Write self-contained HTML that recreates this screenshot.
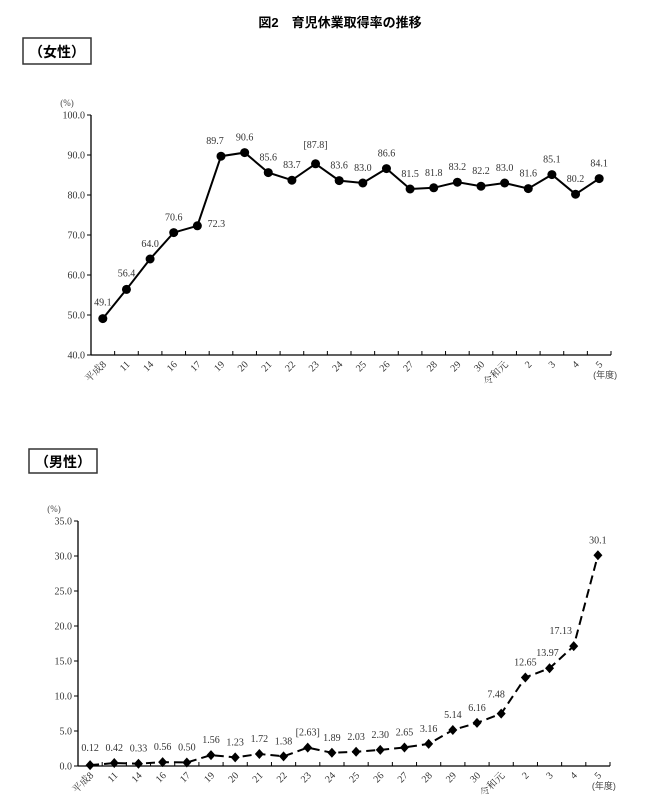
<!DOCTYPE html>
<html><head><meta charset="utf-8"><style>
body{margin:0;background:#fff;width:648px;height:799px;overflow:hidden}
svg{font-family:"Liberation Serif","Noto Serif CJK SC",serif}
.j{font-family:"Liberation Sans","Noto Sans CJK JP",sans-serif}
</style></head><body>
<svg id="s" width="648" height="799" xmlns="http://www.w3.org/2000/svg">
<text class="j" x="340" y="27" font-size="13" font-weight="bold" text-anchor="middle">図2　育児休業取得率の推移</text>
<rect x="23" y="38" width="68" height="26" fill="none" stroke="#333" stroke-width="1.5"/>
<text class="j" x="57" y="57" font-size="14" font-weight="bold" text-anchor="middle">（女性）</text>
<rect x="29" y="449" width="68" height="24" fill="none" stroke="#333" stroke-width="1.5"/>
<text class="j" x="63" y="467" font-size="14" font-weight="bold" text-anchor="middle">（男性）</text>
<g id="g1"></g>
<g id="g2"></g>
</svg>
<script>
const categories=["平成8","11","14","16","17","19","20","21","22","23","24","25","26","27","28","29","30","令和元","2","3","4","5"];
const femaleValues=[49.1,56.4,64.0,70.6,72.3,89.7,90.6,85.6,83.7,87.8,83.6,83.0,86.6,81.5,81.8,83.2,82.2,83.0,81.6,85.1,80.2,84.1];
const femaleLabels=["49.1","56.4","64.0","70.6","72.3","89.7","90.6","85.6","83.7","[87.8]","83.6","83.0","86.6","81.5","81.8","83.2","82.2","83.0","81.6","85.1","80.2","84.1"];
const femaleTicks=[40,50,60,70,80,90,100];
const maleValues=[0.12,0.42,0.33,0.56,0.50,1.56,1.23,1.72,1.38,2.63,1.89,2.03,2.30,2.65,3.16,5.14,6.16,7.48,12.65,13.97,17.13,30.1];
const maleLabels=["0.12","0.42","0.33","0.56","0.50","1.56","1.23","1.72","1.38","[2.63]","1.89","2.03","2.30","2.65","3.16","5.14","6.16","7.48","12.65","13.97","17.13","30.1"];
const maleTicks=[0,5,10,15,20,25,30,35];
const NS="http://www.w3.org/2000/svg";
function mk(p,t,a){const e=document.createElementNS(NS,t);for(const k in a)e.setAttribute(k,a[k]);p.appendChild(e);return e;}
function draw(g,vals,labels,ticks,o){
 const x=i=>o.x0+(i+0.5)*(o.x1-o.x0)/categories.length;
 const y=v=>o.y0+(v-o.min)/(o.max-o.min)*(o.y1-o.y0);
 let e=mk(g,'line',{x1:o.x0,y1:o.y0,x2:o.x0,y2:o.y1,stroke:'#000','stroke-width':1.3});
 
 e=mk(g,'line',{x1:o.x0,y1:o.y0,x2:o.x1,y2:o.y0,stroke:'#000','stroke-width':1.3});
 
 ticks.forEach(t=>{
  e=mk(g,'line',{x1:o.x0-4,y1:y(t),x2:o.x0,y2:y(t),stroke:'#000'});
  
  e=mk(g,'text',{x:o.x0-6,y:y(t)+3.5,'font-size':10,'text-anchor':'end',fill:'#333'});e.textContent=t.toFixed(1);
  
 });
 e=mk(g,'text',{x:o.x0-24,y:o.y1-9,'font-size':9,fill:'#444','text-anchor':'middle'});e.textContent='(%)';
 
 const w=(o.x1-o.x0)/categories.length;
 for(let i=1;i<=categories.length;i++){
  e=mk(g,'line',{x1:o.x0+i*w,y1:o.y0,x2:o.x0+i*w,y2:o.y0-4,stroke:'#000'});
  
 }
 categories.forEach((c,i)=>{
  e=mk(g,'text',{x:x(i)+4,y:o.y0+10,'font-size':10,'text-anchor':'end',fill:'#333',transform:`rotate(-45 ${x(i)+4} ${o.y0+10})`});e.textContent=c;
  
 });
 e=mk(g,'text',{x:x(categories.length-1)+6,y:o.y0+23,'font-size':9,fill:'#444','text-anchor':'middle',class:'j'});e.textContent='(年度)';
 
 const pts=vals.map((v,i)=>x(i)+','+y(v)).join(' ');
 e=mk(g,'polyline',{points:pts,fill:'none',stroke:'#000','stroke-width':2,'stroke-dasharray':o.dash||'none'});
 
 vals.forEach((v,i)=>{
  const cx=x(i),cy=y(v);
  if(o.diamond){e=mk(g,'polygon',{points:`${cx},${cy-5} ${cx+4.5},${cy} ${cx},${cy+5} ${cx-4.5},${cy}`,fill:'#000'});}
  else e=mk(g,'circle',{cx:cx,cy:cy,r:4.5,fill:'#000'});
  
  let lx=cx,ly=cy-12,anc='middle';
  if(o.adj&&o.adj[i]){lx+=o.adj[i][0];ly+=o.adj[i][1];}
  e=mk(g,'text',{x:lx,y:ly,'font-size':10,'text-anchor':anc,fill:'#333'});e.textContent=labels[i];
  
 });
}
draw(document.getElementById('g1'),femaleValues,femaleLabels,femaleTicks,{x0:91,x1:611,y0:355,y1:115,min:40,max:100,adj:{0:[0,-1],4:[19,13],5:[-6,0],9:[0,-4],1:[0,-1]}});
draw(document.getElementById('g2'),maleValues,maleLabels,maleTicks,{x0:78,x1:610,y0:766,y1:521,min:0,max:35,dash:'9,5',diamond:true,adj:{0:[0,-2],17:[-5,-4],20:[-13,0],19:[-2,0]}});
</script>
</body></html>
